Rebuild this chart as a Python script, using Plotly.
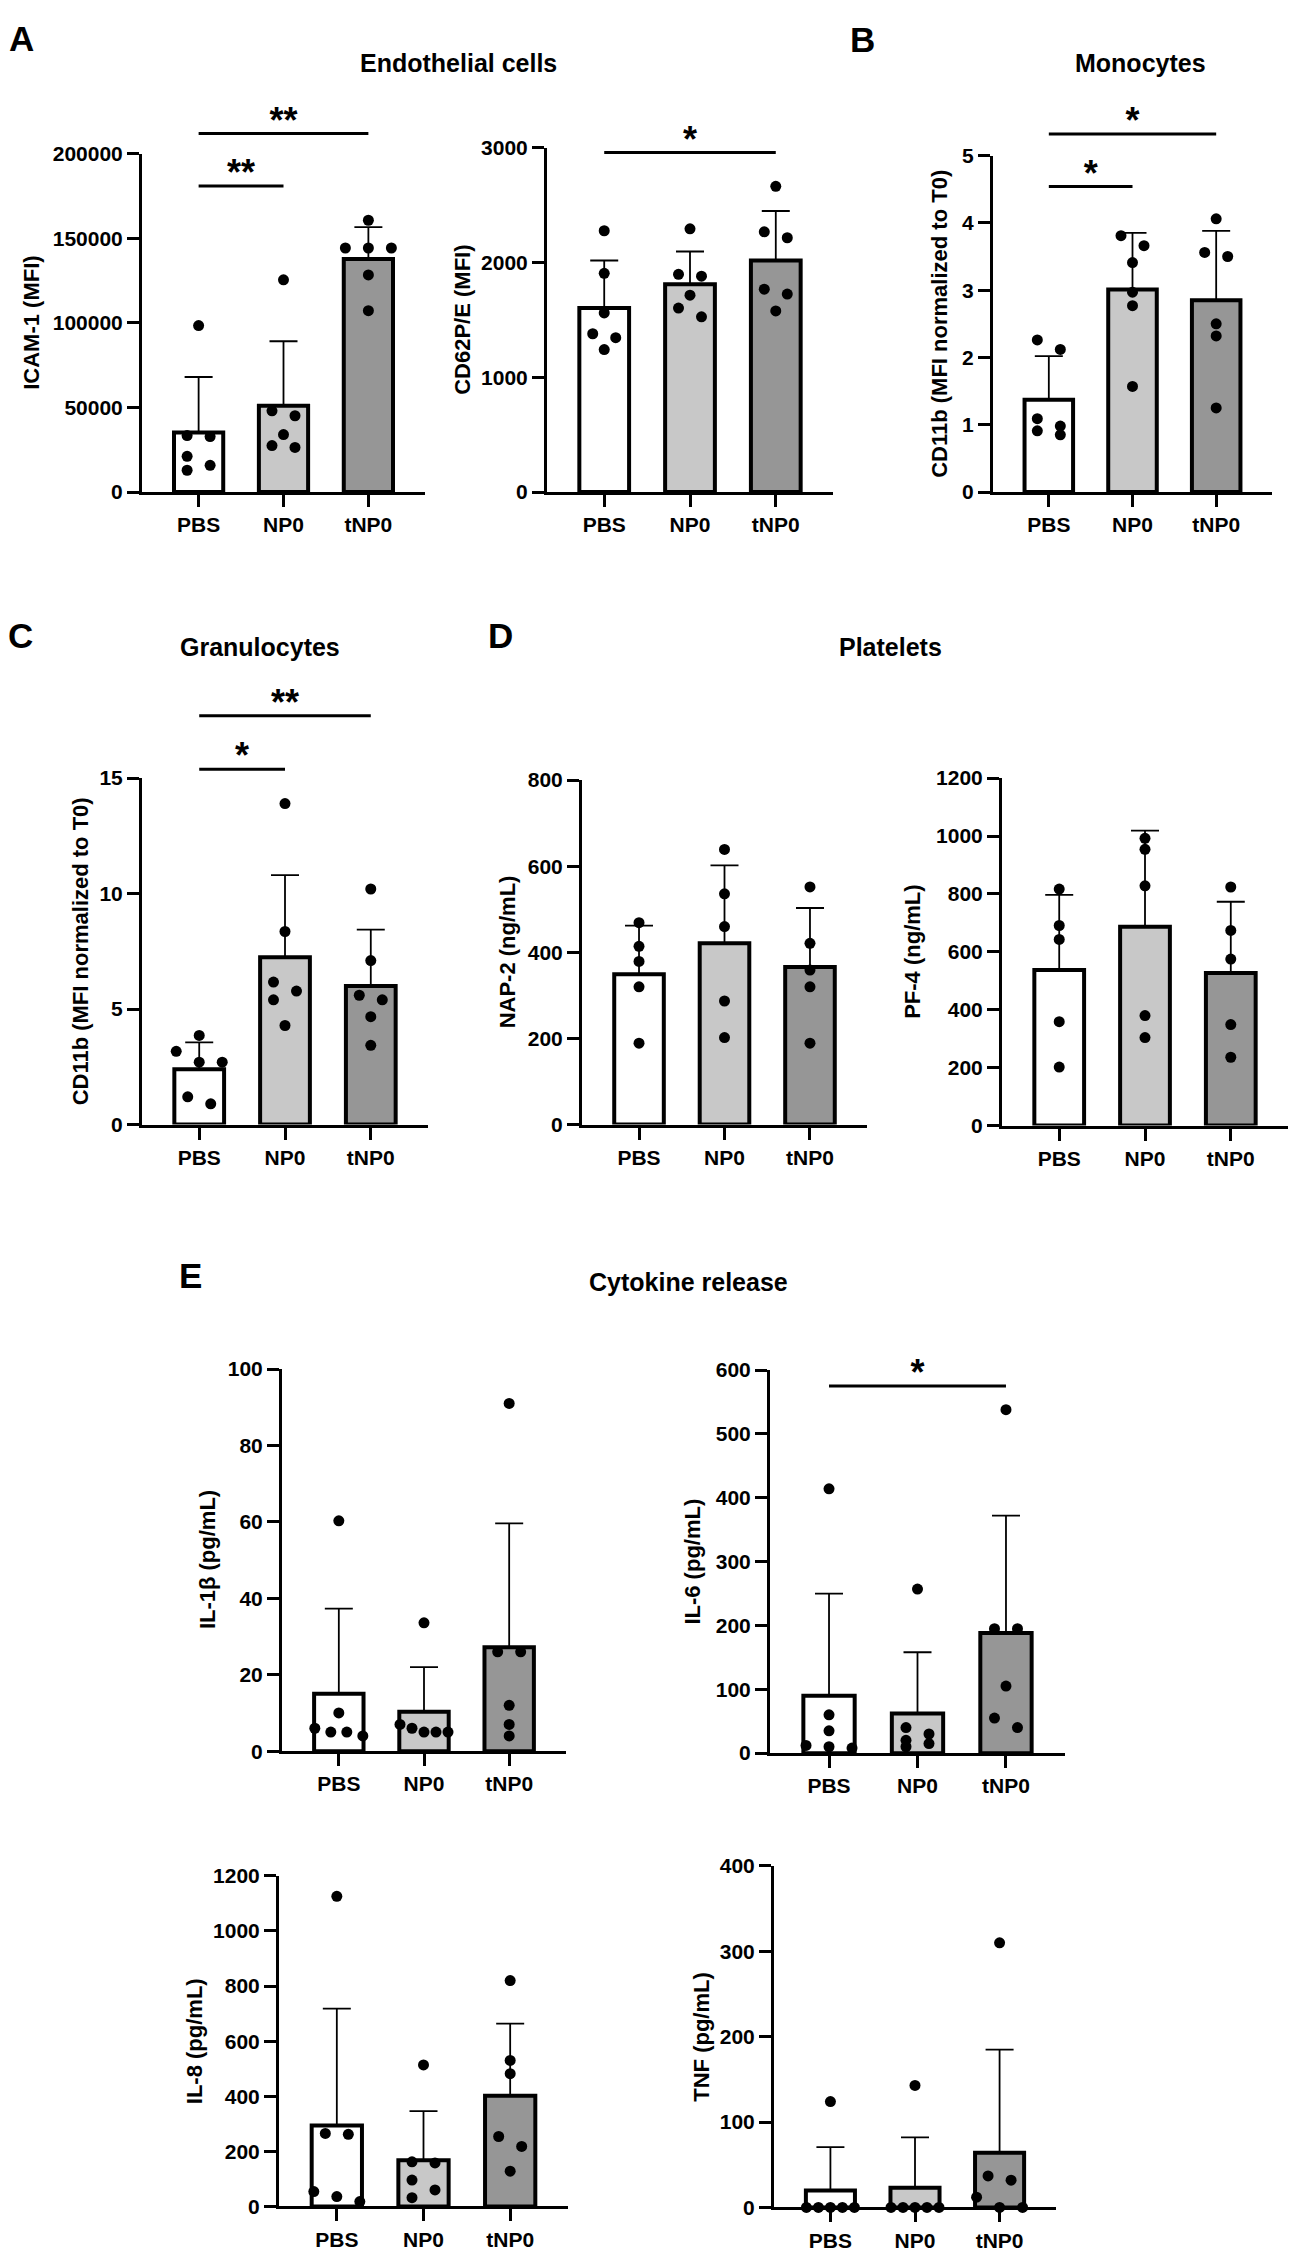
import plotly.graph_objects as go

W, H = 1299, 2265
FONT = "Liberation Sans, Arial, sans-serif"

groups = ["PBS", "NP0", "tNP0"]
bar_colors = ["#ffffff", "#c8c8c8", "#969696"]

# A - endothelial cells
icam1_pbs = [98400, 33400, 32800, 21100, 15800, 12900]
icam1_np0 = [125400, 48000, 45100, 34000, 27500, 26400]
icam1_tnp0 = [160600, 144200, 144200, 144200, 128300, 107200]
icam1_mean = [35200, 51000, 137700]
icam1_sd = [32800, 38100, 18800]
icam1_sig = [(0, 2, "**", 211800), (0, 1, "**", 180800)]

cd62_pbs = [2276, 1905, 1560, 1379, 1345, 1241]
cd62_np0 = [2293, 1896, 1880, 1715, 1603, 1526]
cd62_tnp0 = [2663, 2267, 2215, 1767, 1724, 1578]
cd62_mean = [1603, 1810, 2017]
cd62_sd = [414, 285, 431]
cd62_sig = [(0, 2, "*", 2957)]

# B - monocytes
mono_pbs = [2.26, 2.12, 1.09, 0.98, 0.91, 0.85]
mono_np0 = [3.81, 3.66, 3.41, 2.97, 2.77, 1.57]
mono_tnp0 = [4.06, 3.56, 3.50, 2.50, 2.32, 1.25]
mono_mean = [1.37, 3.01, 2.85]
mono_sd = [0.65, 0.84, 1.03]
mono_sig = [(0, 2, "*", 5.32), (0, 1, "*", 4.54)]

# C - granulocytes
gran_pbs = [3.86, 3.17, 2.7, 2.7, 1.2, 0.9]
gran_np0 = [13.9, 8.36, 6.17, 5.78, 5.4, 4.29]
gran_tnp0 = [10.2, 7.1, 5.6, 5.4, 4.67, 3.43]
gran_mean = [2.4, 7.24, 6.0]
gran_sd = [1.16, 3.56, 2.44]
gran_sig = [(0, 2, "**", 17.7), (0, 1, "*", 15.39)]

# D - platelets
nap2_pbs = [469, 414, 379, 320, 189]
nap2_np0 = [639, 536, 460, 287, 202]
nap2_tnp0 = [552, 421, 359, 320, 189]
nap2_mean = [349, 421, 366]
nap2_sd = [113, 181, 137]

pf4_pbs = [817, 691, 643, 359, 202]
pf4_np0 = [992, 954, 828, 380, 304]
pf4_tnp0 = [824, 674, 575, 349, 236]
pf4_mean = [537, 687, 527]
pf4_sd = [260, 332, 246]

# E - cytokines
il1b_pbs = [60.3, 10, 6, 5, 5, 4]
il1b_np0 = [33.6, 7, 6, 5, 5, 5]
il1b_tnp0 = [91, 26, 26, 12, 7, 4]
il1b_mean = [15, 10.3, 27.2]
il1b_sd = [22.3, 11.7, 32.4]

il6_pbs = [414, 60, 35, 12, 10, 8]
il6_np0 = [257, 40, 30, 20, 15, 10]
il6_tnp0 = [538, 195, 195, 105, 55, 40]
il6_mean = [90, 62, 188]
il6_sd = [160, 96, 184]
il6_sig = [(0, 2, "*", 575)]

il8_pbs = [1126, 265, 262, 54, 36, 18]
il8_np0 = [514, 162, 158, 96, 60, 32]
il8_tnp0 = [820, 530, 482, 254, 218, 128]
il8_mean = [294, 168, 402]
il8_sd = [424, 178, 262]

tnf_pbs = [124, 0, 0, 0, 0, 0]
tnf_np0 = [143, 0, 0, 0, 0, 0]
tnf_tnp0 = [310, 37, 32, 12, 0, 0]
tnf_mean = [19.8, 23, 64]
tnf_sd = [51, 59, 121]

# panel placement in pixels: y-axis x, x-axis right end, x-axis y, top tick y, title x
panels = [
    dict(pts=[icam1_pbs, icam1_np0, icam1_tnp0], mean=icam1_mean, sd=icam1_sd, sig=icam1_sig,
         ymax=200000, dtick=50000, title="ICAM-1 (MFI)", box=(142, 425, 485, 143), tx=32),
    dict(pts=[cd62_pbs, cd62_np0, cd62_tnp0], mean=cd62_mean, sd=cd62_sd, sig=cd62_sig,
         ymax=3000, dtick=1000, title="CD62P/E (MFI)", box=(547, 833, 485, 137), tx=463),
    dict(pts=[mono_pbs, mono_np0, mono_tnp0], mean=mono_mean, sd=mono_sd, sig=mono_sig,
         ymax=5, dtick=1, title="CD11b (MFI normalized to T0)", box=(993, 1272, 485, 145), tx=940),
    dict(pts=[gran_pbs, gran_np0, gran_tnp0], mean=gran_mean, sd=gran_sd, sig=gran_sig,
         ymax=15, dtick=5, title="CD11b (MFI normalized to T0)", box=(142, 428, 1124, 774), tx=80),
    dict(pts=[nap2_pbs, nap2_np0, nap2_tnp0], mean=nap2_mean, sd=nap2_sd, sig=[],
         ymax=800, dtick=200, title="NAP-2 (ng/mL)", box=(582, 867, 1124, 776), tx=507),
    dict(pts=[pf4_pbs, pf4_np0, pf4_tnp0], mean=pf4_mean, sd=pf4_sd, sig=[],
         ymax=1200, dtick=200, title="PF-4 (ng/mL)", box=(1002, 1288, 1125, 774), tx=913),
    dict(pts=[il1b_pbs, il1b_np0, il1b_tnp0], mean=il1b_mean, sd=il1b_sd, sig=[],
         ymax=100, dtick=20, title="IL-1β (pg/mL)", box=(282, 566, 1757, 1371), tx=207),
    dict(pts=[il6_pbs, il6_np0, il6_tnp0], mean=il6_mean, sd=il6_sd, sig=il6_sig,
         ymax=600, dtick=100, title="IL-6 (pg/mL)", box=(770, 1065, 1759, 1372), tx=693),
    dict(pts=[il8_pbs, il8_np0, il8_tnp0], mean=il8_mean, sd=il8_sd, sig=[],
         ymax=1200, dtick=200, title="IL-8 (pg/mL)", box=(279, 568, 2217, 1883), tx=194),
    dict(pts=[tnf_pbs, tnf_np0, tnf_tnp0], mean=tnf_mean, sd=tnf_sd, sig=[],
         ymax=400, dtick=100, title="TNF (pg/mL)", box=(774, 1056, 2218, 1873), tx=702),
]

headings = [("Endothelial cells", 458, 52), ("Monocytes", 1140, 52), ("Granulocytes", 260, 642),
            ("Platelets", 890, 642), ("Cytokine release", 688, 1283)]
letters = [("A", 21, 27), ("B", 862, 28), ("C", 20, 630), ("D", 500, 630), ("E", 190, 1276)]

XR = [-0.667, 2.667]


def swarm(vals, px_unit, px_cat):
    # simple prism-like spreading of overlapping dots
    n = len(vals)
    order = sorted(range(n), key=lambda i: -vals[i])
    offs = [0.0] * n
    clusters, cur = [], [order[0]]
    for a, b in zip(order, order[1:]):
        if (vals[a] - vals[b]) * px_unit < 11:
            cur.append(b)
        else:
            clusters.append(cur)
            cur = [b]
    clusters.append(cur)
    for cl in clusters:
        m = len(cl)
        if m == 1:
            continue
        span = (vals[cl[0]] - vals[cl[-1]]) * px_unit
        if span < 11:
            step = min(23, 48 / (m - 1))
            for k, i in enumerate(cl):
                offs[i] = (k - (m - 1) / 2) * step
        else:
            for k, i in enumerate(cl):
                offs[i] = -11.5 if k % 2 == 0 else 11.5
    return [o / px_cat for o in offs]


def bold(size):
    return dict(family=FONT, size=size, color="black", weight="bold")


fig = go.Figure()
annotations = []

for k, p in enumerate(panels, start=1):
    x0, x1, bottom, top = p["box"]
    xa = "x" if k == 1 else "x%d" % k
    ya = "y" if k == 1 else "y%d" % k
    px_unit = (bottom - top) / p["ymax"]
    px_cat = (x1 - x0) / (XR[1] - XR[0])

    fig.add_trace(go.Bar(
        x=[0, 1, 2], y=p["mean"], width=0.58, xaxis=xa, yaxis=ya,
        marker=dict(color=bar_colors, line=dict(color="black", width=4)),
        showlegend=False, hoverinfo="skip"))
    fig.add_trace(go.Scatter(
        x=[0, 1, 2], y=p["mean"], mode="markers", xaxis=xa, yaxis=ya,
        marker=dict(size=1, opacity=0),
        error_y=dict(type="data", symmetric=False, array=p["sd"], arrayminus=[0, 0, 0],
                     color="black", thickness=1.8, width=14),
        showlegend=False, hoverinfo="skip"))
    for gi, vals in enumerate(p["pts"]):
        offs = swarm(vals, px_unit, px_cat)
        fig.add_trace(go.Scatter(
            x=[gi + o for o in offs], y=vals, mode="markers", xaxis=xa, yaxis=ya,
            marker=dict(size=11, color="black"), cliponaxis=False,
            showlegend=False, hoverinfo="skip"))

    fig.layout["xaxis" if k == 1 else "xaxis%d" % k] = dict(
        domain=[x0 / W, x1 / W], range=XR, anchor=ya,
        tickmode="array", tickvals=[0, 1, 2], ticktext=groups,
        ticks="outside", ticklen=12, tickwidth=3, tickcolor="black",
        showline=True, linewidth=3, linecolor="black",
        showgrid=False, zeroline=False, tickfont=bold(21))
    fig.layout["yaxis" if k == 1 else "yaxis%d" % k] = dict(
        domain=[1 - bottom / H, 1 - top / H], range=[0, p["ymax"]], anchor=xa,
        tickmode="linear", tick0=0, dtick=p["dtick"], tickformat="d",
        ticks="outside", ticklen=12, tickwidth=3, tickcolor="black",
        showline=True, linewidth=3, linecolor="black",
        showgrid=False, zeroline=False, tickfont=bold(21))

    if p["sig"]:
        extra = 75
        hk = 10 + k
        yh = "y%d" % hk
        fig.layout["yaxis%d" % hk] = dict(
            domain=[1 - bottom / H, 1 - (top - extra) / H],
            range=[0, p["ymax"] * (bottom - top + extra) / (bottom - top)],
            anchor=xa, visible=False)
        for a, b, label, h in p["sig"]:
            fig.add_trace(go.Scatter(
                x=[a, b], y=[h, h], mode="lines", xaxis=xa, yaxis=yh,
                line=dict(color="black", width=3), showlegend=False, hoverinfo="skip"))
            fig.add_trace(go.Scatter(
                x=[(a + b) / 2], y=[h + 10 / px_unit], mode="text", text=[label],
                textposition="middle center", textfont=bold(36), xaxis=xa, yaxis=yh,
                cliponaxis=False, showlegend=False, hoverinfo="skip"))

    annotations.append(dict(
        text=p["title"], x=p["tx"] / W, y=1 - (bottom + top) / 2 / H,
        xref="paper", yref="paper", textangle=-90, showarrow=False,
        xanchor="center", yanchor="middle", font=bold(22)))

for txt, x, y in headings:
    annotations.append(dict(text=txt, x=x / W, y=1 - y / H, xref="paper", yref="paper",
                            showarrow=False, xanchor="center", yanchor="middle", font=bold(25)))
for txt, x, y in letters:
    annotations.append(dict(text=txt, x=x / W, y=1 - y / H, xref="paper", yref="paper",
                            showarrow=False, xanchor="center", yanchor="middle", font=bold(35)))

fig.update_layout(
    width=W, height=H, margin=dict(l=0, r=0, t=0, b=0),
    paper_bgcolor="white", plot_bgcolor="rgba(0,0,0,0)",
    annotations=annotations, showlegend=False)

fig.write_html("out.html", config=dict(displayModeBar=False),
               post_script="document.body.style.margin = '0px';")
